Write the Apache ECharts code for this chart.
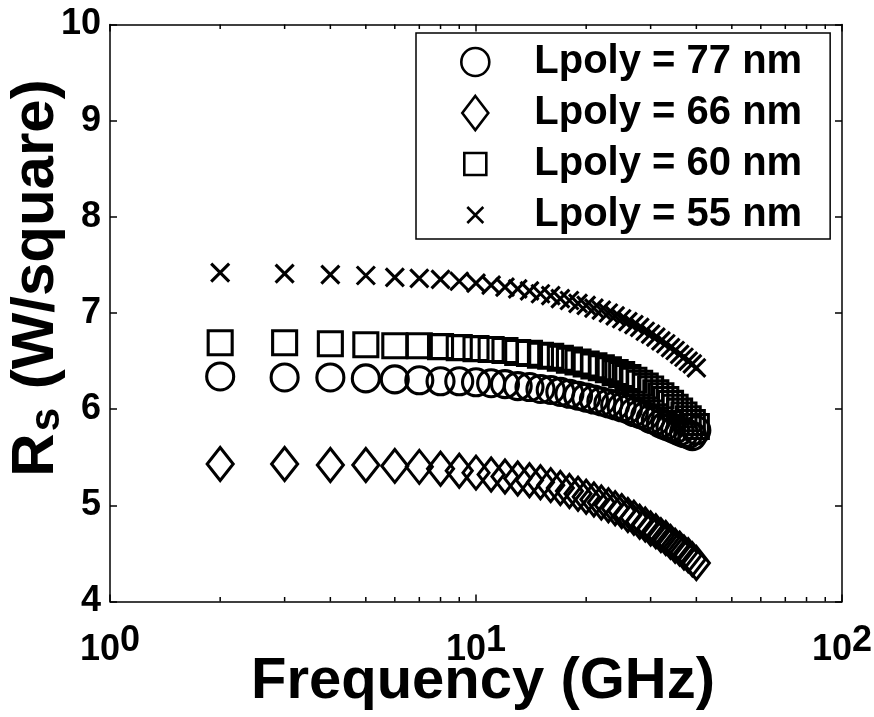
<!DOCTYPE html>
<html>
<head>
<meta charset="utf-8">
<script src="https://cdn.jsdelivr.net/npm/echarts@6/dist/echarts.min.js"></script>
<style>
  html, body { margin: 0; padding: 0; background: #fff; }
  #chart { width: 874px; height: 717px; }
</style>
</head>
<body>
<div id="chart"></div>
<script>
// Sheet resistance vs. frequency for four poly gate lengths
const freqGHz = [2, 3, 4, 5, 6, 7, 8, 9, 10, 11, 12, 13, 14, 15, 16, 17, 18, 19, 20,
  21, 22, 23, 24, 25, 26, 27, 28, 29, 30, 31, 32, 33, 34, 35, 36, 37, 38, 39, 40];

const rs77 = [6.34, 6.33, 6.33, 6.32, 6.31, 6.30, 6.29, 6.29, 6.28, 6.27, 6.26, 6.24, 6.23, 6.21, 6.20, 6.18, 6.16, 6.14, 6.12,
  6.10, 6.08, 6.06, 6.04, 6.02, 6.00, 5.97, 5.95, 5.93, 5.90, 5.88, 5.85, 5.83, 5.81, 5.79, 5.77, 5.75, 5.74, 5.72, 5.78];
const rs66 = [5.43, 5.43, 5.42, 5.42, 5.41, 5.40, 5.38, 5.36, 5.34, 5.32, 5.30, 5.28, 5.26, 5.24, 5.21, 5.18, 5.15, 5.12, 5.09,
  5.06, 5.03, 5.00, 4.97, 4.94, 4.90, 4.87, 4.83, 4.80, 4.76, 4.73, 4.69, 4.66, 4.62, 4.58, 4.55, 4.51, 4.48, 4.44, 4.40];
const rs60 = [6.69, 6.69, 6.68, 6.67, 6.66, 6.66, 6.65, 6.64, 6.63, 6.62, 6.61, 6.59, 6.58, 6.56, 6.55, 6.53, 6.51, 6.49, 6.47,
  6.45, 6.43, 6.41, 6.38, 6.36, 6.33, 6.30, 6.27, 6.24, 6.21, 6.17, 6.14, 6.10, 6.06, 6.02, 5.98, 5.94, 5.90, 5.86, 5.82];
const rs55 = [7.42, 7.41, 7.40, 7.39, 7.37, 7.36, 7.35, 7.33, 7.31, 7.29, 7.27, 7.25, 7.23, 7.20, 7.18, 7.15, 7.13, 7.10, 7.08,
  7.05, 7.03, 7.00, 6.97, 6.94, 6.91, 6.88, 6.85, 6.81, 6.78, 6.75, 6.71, 6.68, 6.64, 6.61, 6.57, 6.54, 6.50, 6.47, 6.43];

const seriesNames = ['Lpoly = 77 nm', 'Lpoly = 66 nm', 'Lpoly = 60 nm', 'Lpoly = 55 nm'];

// axis ranges and log minor tick positions
const xRange = [1, 100];
const yRange = [4, 10];
const yStep = 1;
const xMinorTicks = [2, 3, 4, 5, 6, 7, 8, 9, 20, 30, 40, 50, 60, 70, 80, 90];

const FONT = '"Liberation Sans", Arial, Helvetica, sans-serif';
const STROKE = 3.1;

// marker outlines (legend icons padded so they keep the plotted proportions)
const crossPath = 'path://M0,0L10,10M10,0L0,10';
const circleLegendIcon = 'path://M0,0M32,18A14,14,0,1,1,4,18A14,14,0,1,1,32,18Z M36,36';
const diamondLegendIcon = 'path://M0,0M18,1L31,18L18,35L5,18Z M36,36';
const rectLegendIcon = 'path://M0,0M7,7H29V29H7Z M36,36';
const crossLegendIcon = 'path://M0,0M10,10L26,26M26,10L10,26M36,36';

function pairs(xs, ys) { return xs.map((x, i) => [x, ys[i]]); }

function markerSeries(name, values, symbol, size) {
  return {
    name: name,
    type: 'scatter',
    xAxisIndex: 0,
    yAxisIndex: 0,
    data: pairs(freqGHz, values),
    symbol: symbol,
    symbolSize: size,
    itemStyle: { color: 'rgba(0,0,0,0)', borderColor: '#000', borderWidth: STROKE, opacity: 1 },
    emphasis: { disabled: true },
    clip: false,
    z: 3
  };
}

const chart = echarts.init(document.getElementById('chart'), null, { renderer: 'canvas' });

const axisLineStyle = { color: '#000', width: 1.5 };
const labelFont = { fontFamily: FONT, fontWeight: 'bold', color: '#000' };

chart.setOption({
  backgroundColor: '#fff',
  animation: false,
  grid: { left: 110, top: 24.5, width: 732, height: 577, containLabel: false, outerBoundsMode: 'none' },
  legend: {
    data: [
      { name: seriesNames[0], icon: circleLegendIcon },
      { name: seriesNames[1], icon: diamondLegendIcon },
      { name: seriesNames[2], icon: rectLegendIcon },
      { name: seriesNames[3], icon: crossLegendIcon }
    ],
    orient: 'vertical',
    left: 416,
    top: 33,
    padding: [9, 28, 4, 40],
    itemGap: 11,
    itemWidth: 36,
    itemHeight: 40,
    borderColor: '#000',
    borderWidth: 1.5,
    backgroundColor: '#fff',
    selectedMode: false,
    itemStyle: { borderWidth: 2.6 },
    textStyle: { fontFamily: FONT, fontWeight: 'bold', fontSize: 40, color: '#000', padding: [0, 0, 0, 36] }
  },
  xAxis: [
    {
      type: 'log', logBase: 10, min: xRange[0], max: xRange[1], position: 'bottom',
      name: 'Frequency (GHz)', nameLocation: 'middle', nameGap: 51, nameMoveOverlap: false,
      nameTextStyle: { fontFamily: FONT, fontWeight: 'bold', fontSize: 58, color: '#000', padding: [0, 0, 0, 14] },
      axisLine: { show: true, lineStyle: axisLineStyle },
      axisTick: { show: true, inside: true, length: 7, lineStyle: axisLineStyle },
      splitLine: { show: false },
      axisLabel: {
        margin: 22,
        formatter: v => '{b|10}{s|' + Math.round(Math.log10(v)) + '}',
        rich: {
          b: Object.assign({ fontSize: 36 }, labelFont),
          s: Object.assign({ fontSize: 36, padding: [0, 0, 18, 0] }, labelFont)
        }
      }
    },
    {
      type: 'log', logBase: 10, min: xRange[0], max: xRange[1], position: 'top',
      axisLine: { show: true, lineStyle: axisLineStyle },
      axisTick: { show: true, inside: true, length: 7, lineStyle: axisLineStyle },
      axisLabel: { show: false },
      splitLine: { show: false }
    }
  ],
  yAxis: [
    {
      type: 'value', min: yRange[0], max: yRange[1], interval: yStep, position: 'left',
      name: '{r|R}{sub|s}{t| (W/square)}', nameLocation: 'middle', nameRotate: 90, nameGap: 42, nameMoveOverlap: false,
      nameTextStyle: {
        rich: {
          r: { fontFamily: FONT, fontWeight: 'bold', fontSize: 60, color: '#000', padding: [0, 0, 0, 70] },
          sub: { fontFamily: FONT, fontWeight: 'bold', fontSize: 42, color: '#000', padding: [22, 2, 0, 2] },
          t: { fontFamily: FONT, fontWeight: 'bold', fontSize: 60, color: '#000' }
        }
      },
      axisLine: { show: true, lineStyle: axisLineStyle },
      axisTick: { show: true, inside: true, length: 7, lineStyle: axisLineStyle },
      splitLine: { show: false },
      axisLabel: Object.assign({ fontSize: 36, margin: 9 }, labelFont)
    },
    {
      type: 'value', min: yRange[0], max: yRange[1], interval: yStep, position: 'right',
      axisLine: { show: true, lineStyle: axisLineStyle },
      axisTick: { show: true, inside: true, length: 7, lineStyle: axisLineStyle },
      axisLabel: { show: false },
      splitLine: { show: false }
    }
  ],
  series: [
    markerSeries(seriesNames[0], rs77, 'circle', 27),
    markerSeries(seriesNames[1], rs66, 'diamond', [26, 33]),
    markerSeries(seriesNames[2], rs60, 'rect', 24),
    markerSeries(seriesNames[3], rs55, crossPath, 18),
    {
      // minor log ticks along the bottom and top edges
      type: 'custom',
      name: 'minorTicks',
      xAxisIndex: 0,
      yAxisIndex: 0,
      silent: true,
      clip: false,
      data: xMinorTicks.map(v => [v]),
      renderItem: function (params, api) {
        const v = api.value(0);
        const bottom = api.coord([v, yRange[0]]);
        const top = api.coord([v, yRange[1]]);
        const style = { stroke: '#000', lineWidth: 1.5 };
        return {
          type: 'group',
          children: [
            { type: 'line', shape: { x1: bottom[0], y1: bottom[1], x2: bottom[0], y2: bottom[1] - 4.5 }, style: style },
            { type: 'line', shape: { x1: top[0], y1: top[1], x2: top[0], y2: top[1] + 4.5 }, style: style }
          ]
        };
      },
      z: 2
    }
  ]
});
</script>
</body>
</html>
